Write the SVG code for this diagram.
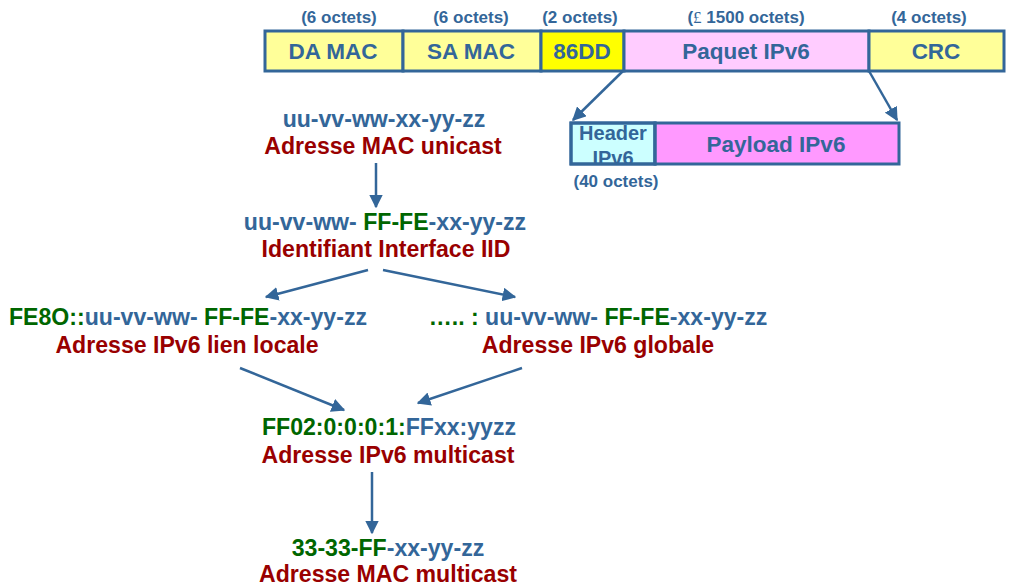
<svg xmlns="http://www.w3.org/2000/svg" width="1009" height="586" viewBox="0 0 1009 586">
<defs>
<style>
text{font-family:"Liberation Sans",Arial,sans-serif;font-weight:bold}
.lbl{font-size:22.5px;fill:#336699;text-anchor:middle}
.oct{font-size:17px;fill:#336699;text-anchor:middle}
.b{fill:#336699}
.g{fill:#006600}
.r{fill:#990000}
.big{font-size:23.1px;text-anchor:middle}
.box{stroke:#336699;stroke-width:3}
.conn line{stroke:#336699;stroke-width:2.5;marker-end:url(#ah)}
</style>
<marker id="ah" viewBox="0 0 10 10" refX="9" refY="5" markerWidth="5.5" markerHeight="5.5" orient="auto" markerUnits="strokeWidth">
<path d="M0,0 L10,5 L0,10 z" fill="#336699"/>
</marker>
<clipPath id="hclip"><rect x="571" y="123" width="84" height="41"/></clipPath>
</defs>
<rect width="1009" height="586" fill="#ffffff"/>

<g id="frame">
<text class="oct" x="339" y="23">(6 octets)</text>
<text class="oct" x="471" y="23">(6 octets)</text>
<text class="oct" x="580" y="23">(2 octets)</text>
<text class="oct" x="746" y="23">(<tspan style="font-family:'Liberation Serif',serif;font-weight:normal">£</tspan> 1500 octets)</text>
<text class="oct" x="929" y="23">(4 octets)</text>
<rect class="box" x="265" y="31" width="138" height="40" fill="#FFFF99"/>
<rect class="box" x="403" y="31" width="138" height="40" fill="#FFFF99"/>
<rect class="box" x="541" y="31" width="83" height="40" fill="#FFFF00"/>
<rect class="box" x="624" y="31" width="245" height="40" fill="#FFCCFF"/>
<rect class="box" x="869" y="31" width="135" height="40" fill="#FFFF99"/>
<text class="lbl" x="333" y="59">DA MAC</text>
<text class="lbl" x="471" y="59">SA MAC</text>
<text class="lbl" x="582" y="59">86DD</text>
<text class="lbl" x="746" y="59">Paquet IPv6</text>
<text class="lbl" x="936" y="59">CRC</text>
</g>

<g id="packet">
<rect class="box" x="571" y="123" width="84" height="41" fill="#CCFFFF"/>
<rect class="box" x="655" y="123" width="244" height="41" fill="#FF99FF"/>
<g clip-path="url(#hclip)">
<text class="lbl" style="font-size:20px" x="613" y="140">Header</text>
<text class="lbl" style="font-size:20px" x="613" y="165">IPv6</text>
</g>
<rect x="571" y="123" width="84" height="41" fill="none" class="box"/>
<text class="lbl" x="776" y="152">Payload IPv6</text>
<text class="oct" x="616" y="187">(40 octets)</text>
</g>

<g id="mac-unicast">
<text class="big" x="384" y="127"><tspan class="b">uu-vv-ww-xx-yy-zz</tspan></text>
<text class="big r" x="383" y="154">Adresse MAC unicast</text>
</g>

<g id="iid">
<text class="big" x="385" y="230"><tspan class="b">uu-vv-ww- </tspan><tspan class="g">FF-FE</tspan><tspan class="b">-xx-yy-zz</tspan></text>
<text class="big r" x="386" y="257">Identifiant Interface IID</text>
</g>

<g id="link-local">
<text class="big" x="188" y="325"><tspan class="g">FE8O::</tspan><tspan class="b">uu-vv-ww- </tspan><tspan class="g">FF-FE</tspan><tspan class="b">-xx-yy-zz</tspan></text>
<text class="big r" x="187" y="353">Adresse IPv6 lien locale</text>
</g>

<g id="global">
<text class="big" x="598" y="325"><tspan class="g">….. : </tspan><tspan class="b">uu-vv-ww- </tspan><tspan class="g">FF-FE</tspan><tspan class="b">-xx-yy-zz</tspan></text>
<text class="big r" x="598" y="353">Adresse IPv6 globale</text>
</g>

<g id="ipv6-multicast">
<text class="big" x="389" y="435"><tspan class="g">FF02:0:0:0:1:</tspan><tspan class="b">FFxx:yyzz</tspan></text>
<text class="big r" x="388" y="463">Adresse IPv6 multicast</text>
</g>

<g id="mac-multicast">
<text class="big" x="388" y="556"><tspan class="g">33-33-FF</tspan><tspan class="b">-xx-yy-zz</tspan></text>
<text class="big r" x="388" y="582">Adresse MAC multicast</text>
</g>

<g id="connectors" class="conn">
<line x1="623" y1="71" x2="573" y2="120"/>
<line x1="869" y1="71" x2="897" y2="120"/>
<line x1="376" y1="163" x2="376" y2="207"/>
<line x1="368" y1="270" x2="266" y2="297"/>
<line x1="383" y1="270" x2="515" y2="297"/>
<line x1="240" y1="368" x2="344" y2="410"/>
<line x1="522" y1="368" x2="418" y2="403"/>
<line x1="372" y1="472" x2="372" y2="533"/>
</g>
</svg>
